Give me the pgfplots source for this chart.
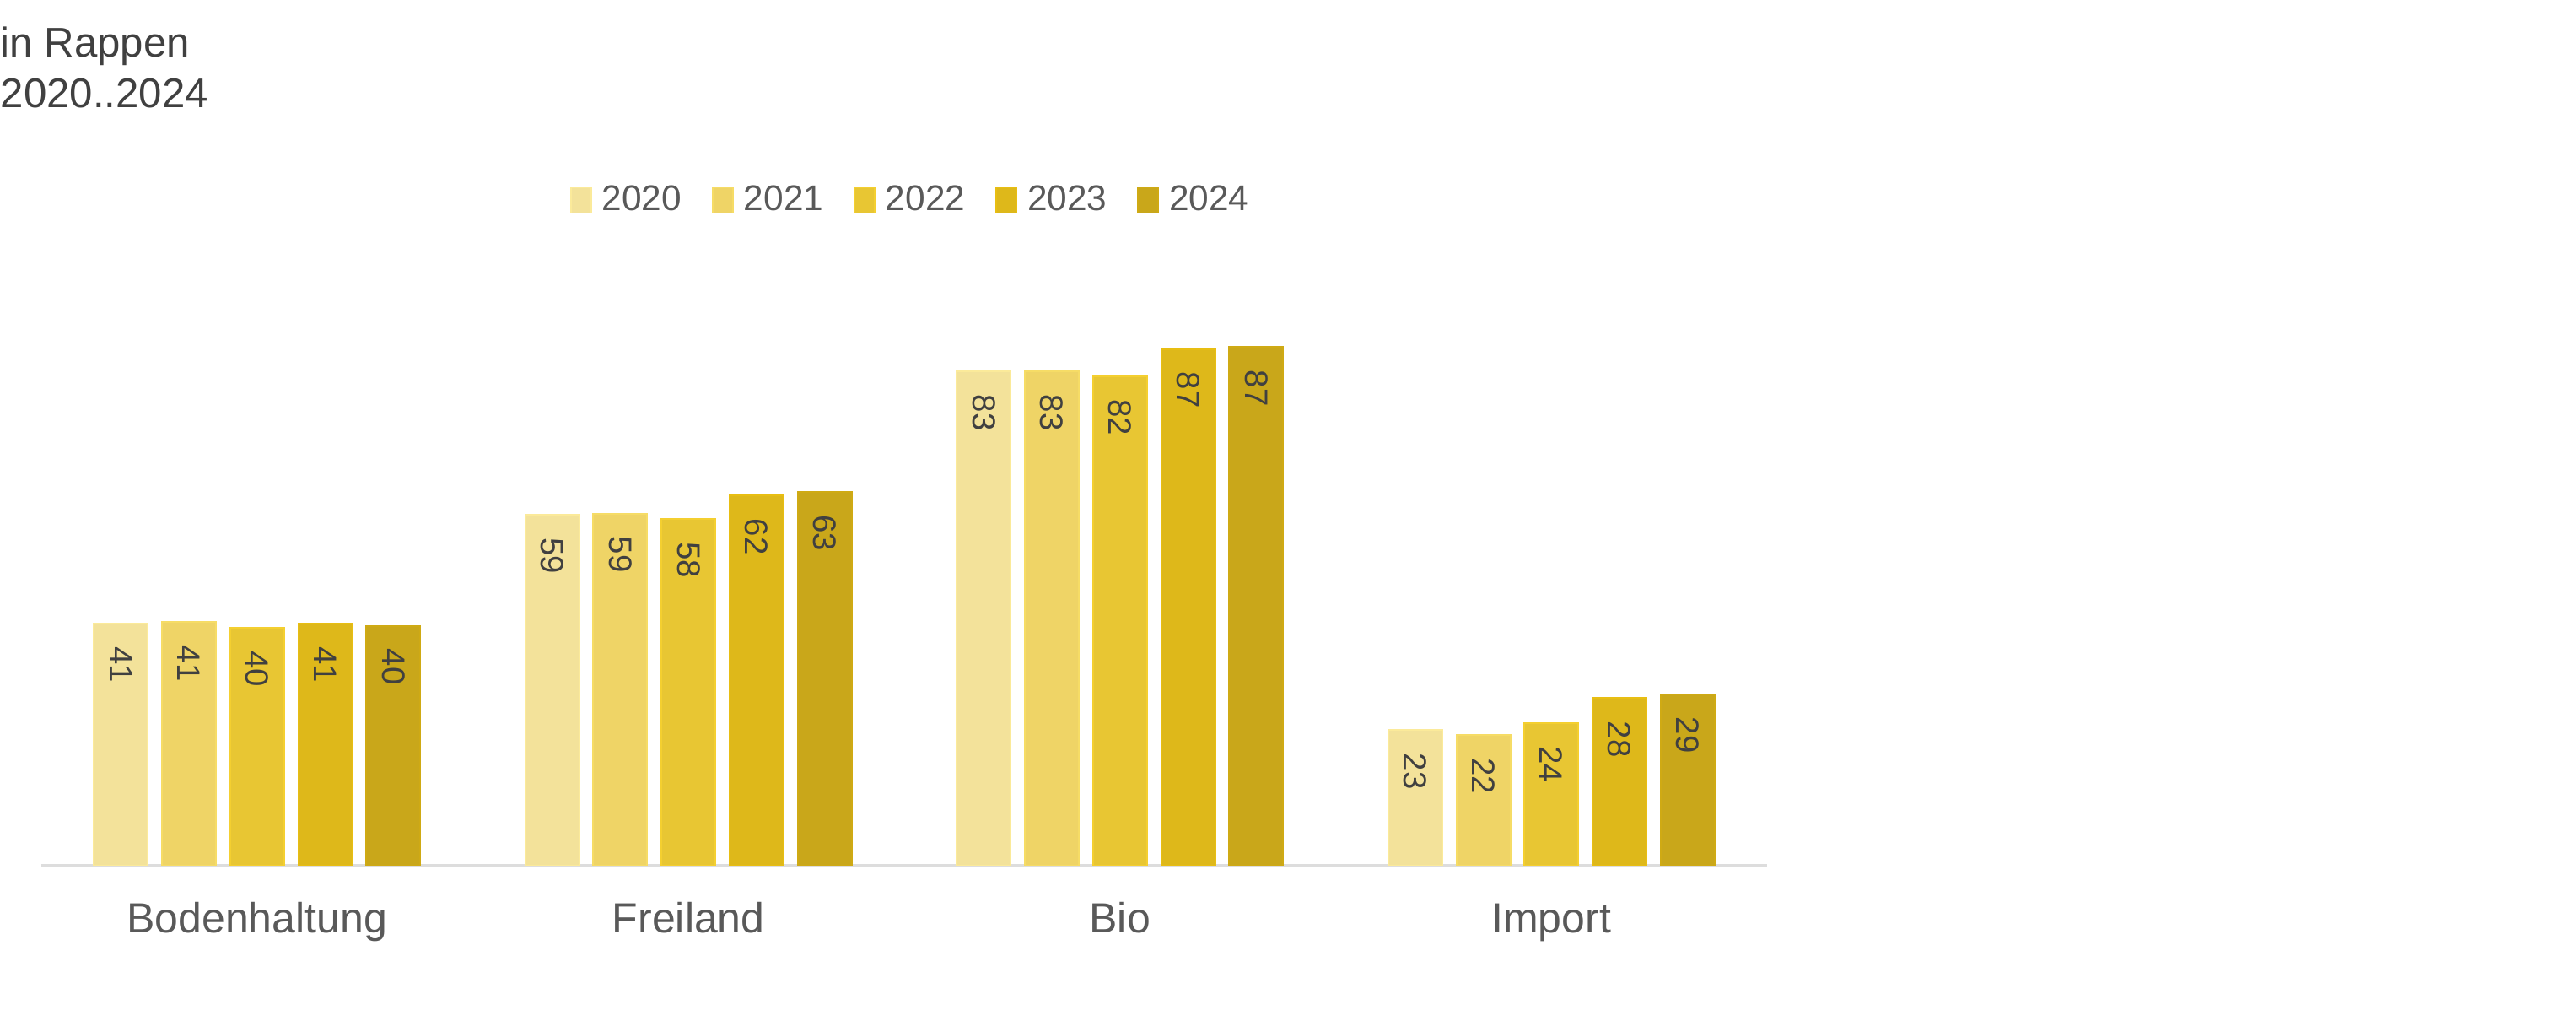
\documentclass[border=0pt]{standalone}
\usepackage{fontspec}
\setmainfont{Liberation Sans}
\usepackage{pgfplots}
\pgfplotsset{compat=1.18}

\definecolor{cA}{HTML}{F3E29A}
\definecolor{cB}{HTML}{EFD466}
\definecolor{cC}{HTML}{E8C633}
\definecolor{cD}{HTML}{DEB81A}
\definecolor{cE}{HTML}{C9A71A}
\definecolor{bA}{HTML}{FBEA9A}
\definecolor{bB}{HTML}{F6DC66}
\definecolor{bC}{HTML}{F4CF30}
\definecolor{bD}{HTML}{E8BE12}
\definecolor{bE}{HTML}{CFAA14}
\definecolor{txt}{HTML}{404040}
\definecolor{lab}{HTML}{595959}
\definecolor{grid}{HTML}{DDDDDD}

\begin{document}
\begin{tikzpicture}
\path[use as bounding box] (0,0) rectangle (763.5pt,302.5pt);

% title lines
\node[anchor=base west, inner sep=0pt, text=txt, font=\fontsize{12.3}{14}\selectfont] at (0pt,285.5pt) {in Rappen};
\node[anchor=base west, inner sep=0pt, text=txt, font=\fontsize{12.3}{14}\selectfont] at (0pt,270.5pt) {2020..2024};

\begin{axis}[
    at={(12.25pt,46pt)}, anchor=south west,
    scale only axis,
    width=511.5pt, height=176pt,
    xmin=-0.5, xmax=3.5,
    ymin=0, ymax=100,
    ybar=4.19pt, bar width=16pt,
    axis x line*=bottom,
    axis y line=none,
    x axis line style={draw=grid, line width=0.9pt, -},
    xtick={0,1,2,3},
    xticklabels={Bodenhaltung,Freiland,Bio,Import},
    major tick length=0pt,
    xticklabel style={anchor=base, yshift=-19.8pt, text=lab, font=\fontsize{12.5}{14}\selectfont},
    /pgf/number format/assume math mode=true,
    point meta=y,
    nodes near coords={\pgfmathprintnumber[fixed,precision=0,assume math mode=true]{\pgfplotspointmeta}},
    every node near coord/.append style={rotate=-90, anchor=west, inner xsep=6.6pt, inner ysep=0pt,
        text=txt, font=\fontsize{9.6}{10}\selectfont},
    legend columns=5,
    legend style={at={(0.505,1.12)}, anchor=center, draw=none, fill=none,
        font=\fontsize{10.6}{12}\selectfont, text=lab,
        /tikz/every even column/.append style={column sep=7pt}},
    legend image code/.code={\draw[#1, line width=0.4pt] (0pt,-3.75pt) rectangle (6pt,3.75pt); \path (7pt,0pt);},
]
\addplot[fill=cA, draw=bA, line width=0.5pt] coordinates {(0,40.8) (1,59.1) (2,83.2) (3,22.8)};
\addplot[fill=cB, draw=bB, line width=0.5pt] coordinates {(0,41.0) (1,59.3) (2,83.2) (3,22.0)};
\addplot[fill=cC, draw=bC, line width=0.5pt] coordinates {(0,40.1) (1,58.4) (2,82.4) (3,24.0)};
\addplot[fill=cD, draw=bD, line width=0.5pt] coordinates {(0,40.8) (1,62.3) (2,87.0) (3,28.2)};
\addplot[fill=cE, draw=bE, line width=0.5pt] coordinates {(0,40.4) (1,62.9) (2,87.3) (3,28.9)};
\legend{2020,2021,2022,2023,2024}
\end{axis}
\end{tikzpicture}
\end{document}
